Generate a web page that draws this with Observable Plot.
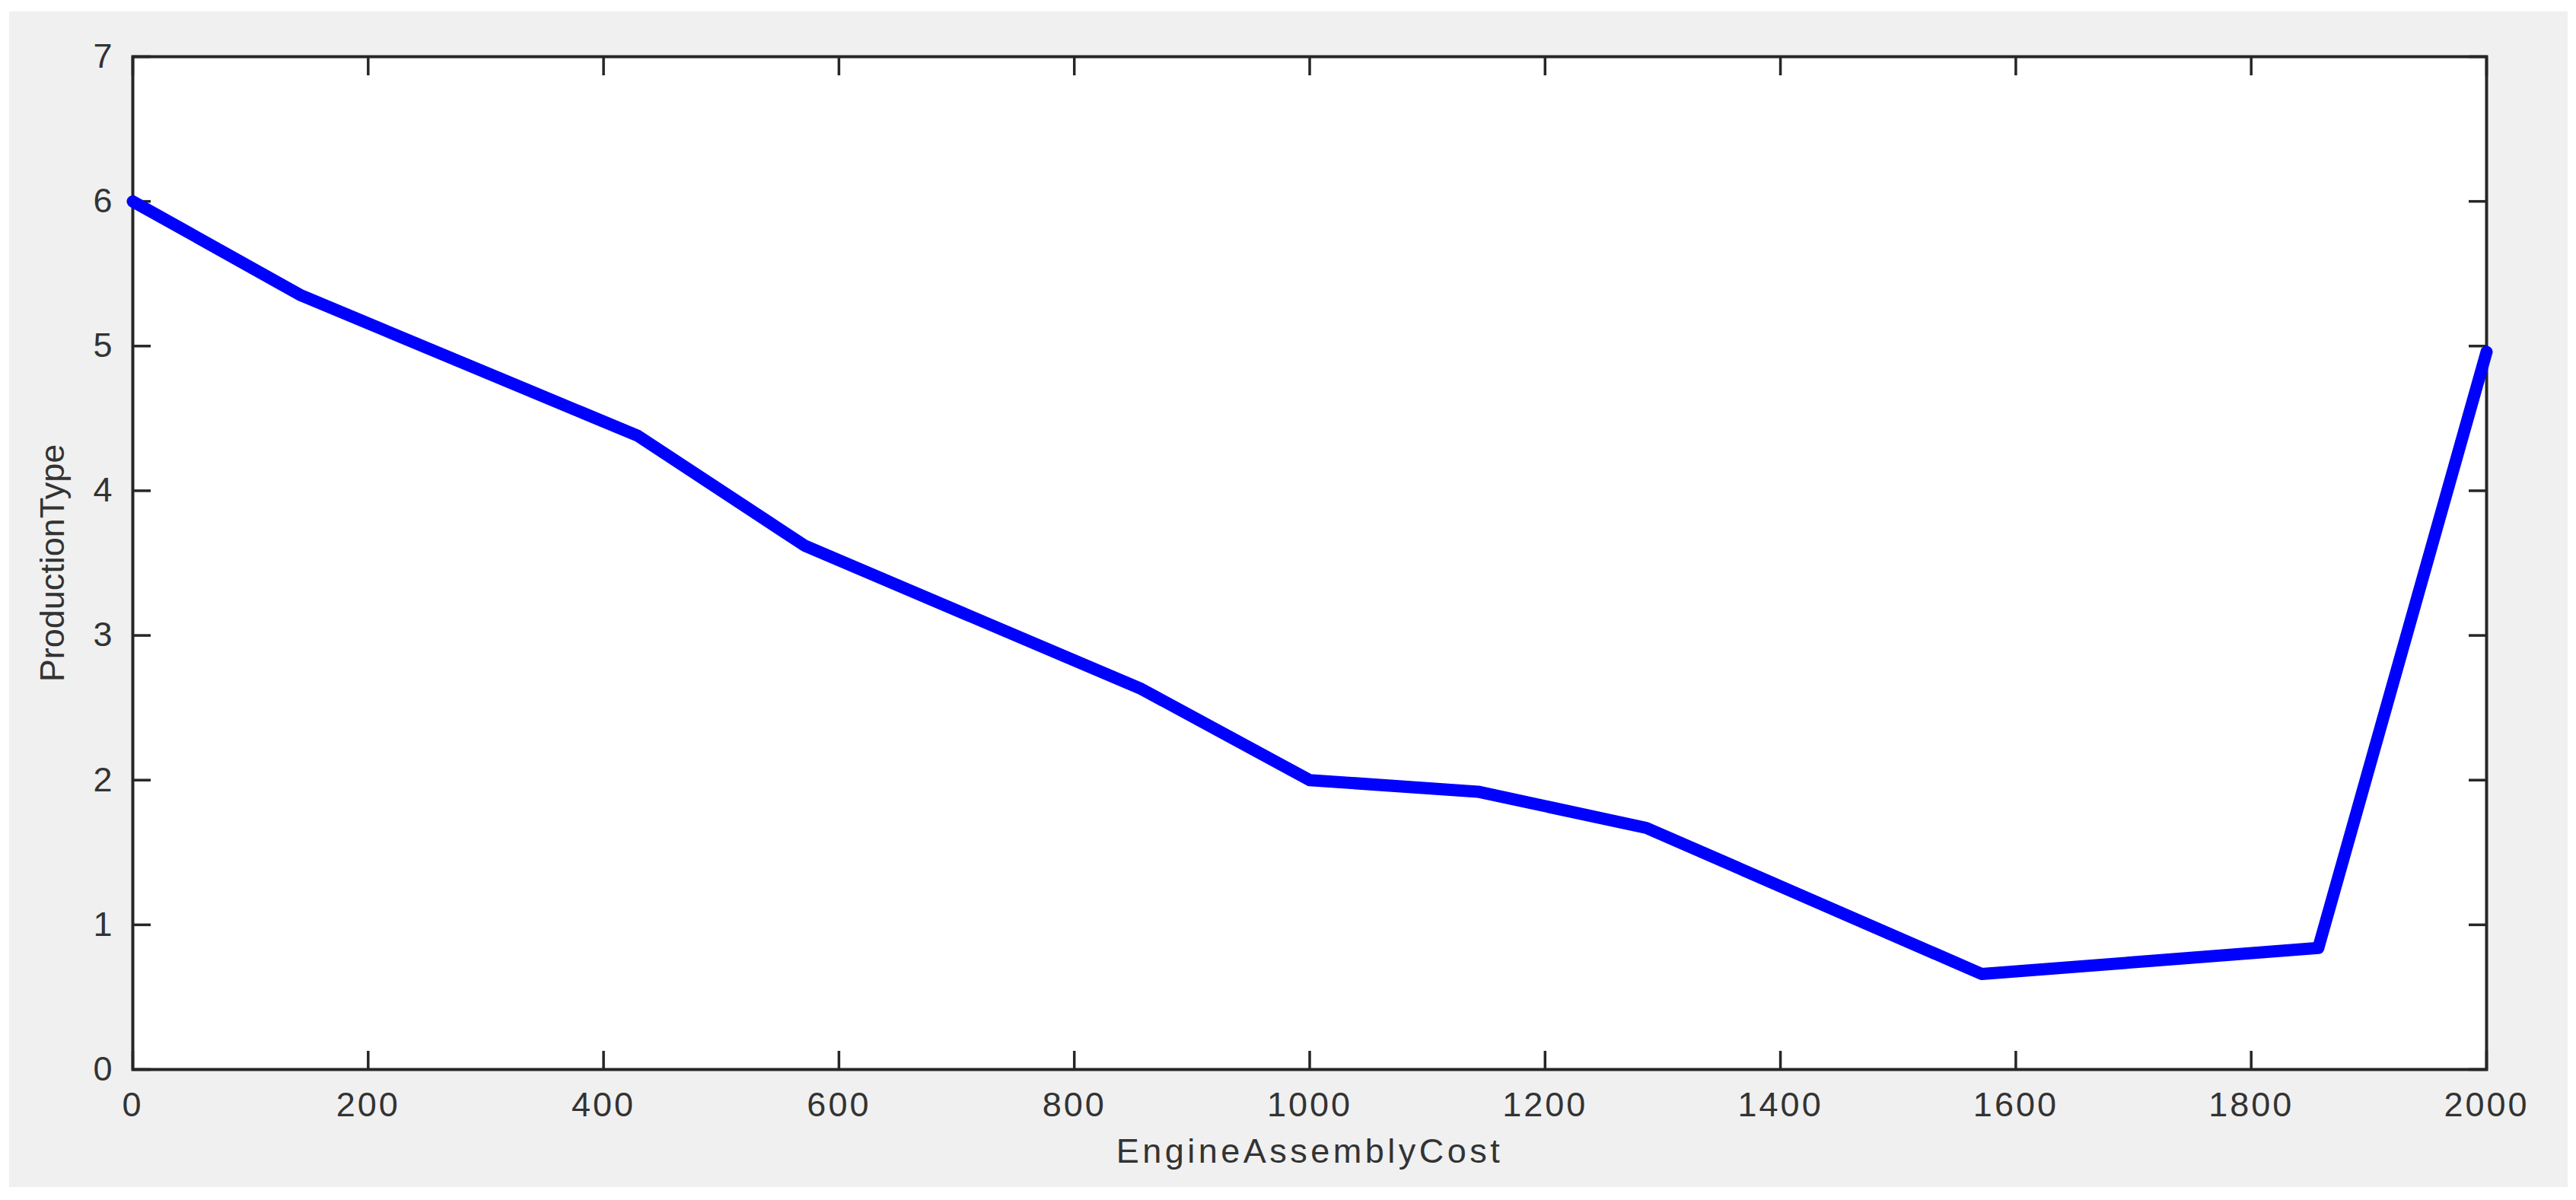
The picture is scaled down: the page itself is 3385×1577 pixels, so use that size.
<!DOCTYPE html>
<html><head><meta charset="utf-8">
<script src="https://cdn.jsdelivr.net/npm/d3@7"></script>
<script src="https://cdn.jsdelivr.net/npm/@observablehq/plot@0.6"></script>
<style>
html,body{margin:0;padding:0;background:#fff;}
#bg{position:absolute;left:12px;top:15px;width:3362px;height:1545px;background:#f0f0f0;}
#chart{position:absolute;left:0;top:0;}
#chart svg{background:transparent;}
g[aria-label="x-axis tick label"] text, g[aria-label="y-axis tick label"] text{letter-spacing:3px;}
g[aria-label="x-axis label"] text{letter-spacing:4.5px;}
</style></head><body><div id="bg"></div><div id="chart"></div>
<script>
// Data
const engineAssemblyCost = [0, 143, 429, 571, 857, 1000, 1143, 1286, 1571, 1857, 2000];
const productionType = [6.0, 5.35, 4.38, 3.62, 2.63, 2.0, 1.92, 1.67, 0.66, 0.84, 4.96];
const xTicks = [0, 200, 400, 600, 800, 1000, 1200, 1400, 1600, 1800, 2000];
const yTicks = [0, 1, 2, 3, 4, 5, 6, 7];
const xLabel = "EngineAssemblyCost";
const yLabel = "ProductionType";

const data = engineAssemblyCost.map((x, i) => ({x, y: productionType[i]}));
const axisColor = "#262626";
const tickOnly = {tickSize: -24, tickFormat: () => "", strokeWidth: 3.5, stroke: axisColor, label: null};

const plot = Plot.plot({
  width: 3385,
  height: 1577,
  marginLeft: 174,
  marginRight: 118,
  marginTop: 74,
  marginBottom: 172,
  x: {domain: [0, 2000]},
  y: {domain: [0, 7]},
  style: {background: "transparent", fontFamily: "'Liberation Sans', Arial, sans-serif", color: axisColor},
  marks: [
    Plot.frame({fill: "white", stroke: axisColor, strokeWidth: 4}),
    Plot.axisX(xTicks, {anchor: "bottom", ...tickOnly}),
    Plot.axisX(xTicks, {anchor: "top", ...tickOnly}),
    Plot.axisY(yTicks, {anchor: "left", ...tickOnly}),
    Plot.axisY(yTicks, {anchor: "right", ...tickOnly}),
    Plot.axisX(xTicks, {anchor: "bottom", tickSize: 0, tickPadding: 30, fontSize: 45, fill: "#333",
      tickFormat: d => String(d),
      label: xLabel, labelAnchor: "center", labelOffset: 122, labelArrow: "none"}),
    Plot.axisY(yTicks, {anchor: "left", tickSize: 0, tickPadding: 24, fontSize: 45, fill: "#333",
      tickFormat: d => String(d),
      label: yLabel, labelAnchor: "center", labelOffset: 122, labelArrow: "none"}),
    Plot.line(data, {x: "x", y: "y", stroke: "#0000ff", strokeWidth: 16})
  ]
});
document.getElementById("chart").appendChild(plot);
</script></body></html>
